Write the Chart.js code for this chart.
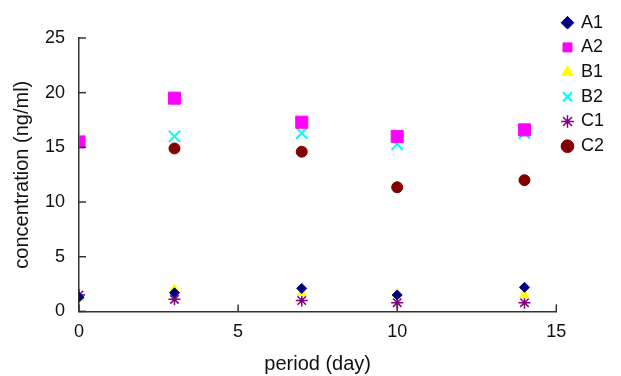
<!DOCTYPE html>
<html>
<head>
<meta charset="utf-8">
<script src="https://cdn.jsdelivr.net/npm/chart.js@4.4.1/dist/chart.umd.min.js"></script>
<style>
  html, body { margin: 0; padding: 0; background: #fff; }
</style>
</head>
<body>
<canvas id="concChart" width="621" height="376"></canvas>
<script>
const days = [0, 3, 7, 10, 14];
const a1 = [1.3, 1.7, 2.1, 1.5, 2.2];
const a2 = [15.5, 19.5, 17.3, 16.0, 16.6];
const b1 = [1.2, 2.0, 1.7, 1.6, 1.5];
const b2 = [15.5, 16.0, 16.3, 15.3, 16.3];
const c1 = [1.5, 1.1, 1.0, 0.8, 0.8];
const c2 = [15.5, 14.9, 14.6, 11.35, 12.0];
const yTicks = [0, 5, 10, 15, 20, 25];
const xTicks = [0, 5, 10, 15];

const FONT = 'Liberation Sans, Arial, sans-serif';

function pts(vals) {
  return vals.map((v, i) => ({ x: days[i], y: v }));
}

// inward tick marks, like the original plot
const innerTicks = {
  id: 'innerTicks',
  afterDraw(chart) {
    const { ctx, scales: { x, y } } = chart;
    ctx.save();
    ctx.strokeStyle = '#333';
    ctx.lineWidth = 1.5;
    xTicks.forEach(t => {
      const px = x.getPixelForValue(t);
      ctx.beginPath();
      ctx.moveTo(px, y.bottom);
      ctx.lineTo(px, y.bottom - 7);
      ctx.stroke();
    });
    yTicks.forEach(t => {
      const py = y.getPixelForValue(t);
      ctx.beginPath();
      ctx.moveTo(x.left, py);
      ctx.lineTo(x.left + 7, py);
      ctx.stroke();
    });
    ctx.restore();
  }
};

const ctx = document.getElementById('concChart').getContext('2d');
new Chart(ctx, {
  type: 'scatter',
  data: {
    datasets: [
      { label: 'A1', data: pts(a1), pointStyle: 'rectRot', pointRadius: 5, backgroundColor: '#000080', borderColor: '#000080' },
      { label: 'A2', data: pts(a2), pointStyle: 'rect', pointRadius: 8.5, backgroundColor: '#ff00ff', borderColor: '#ff00ff' },
      { label: 'B1', data: pts(b1), pointStyle: 'triangle', pointRadius: 5.5, backgroundColor: '#ffff00', borderColor: '#ffff00' },
      { label: 'B2', data: pts(b2), pointStyle: 'crossRot', pointRadius: 8, borderWidth: 2, backgroundColor: '#00ffff', borderColor: '#00ffff' },
      { label: 'C1', data: pts(c1), pointStyle: 'star', pointRadius: 6, borderWidth: 1.5, backgroundColor: '#800080', borderColor: '#800080' },
      { label: 'C2', data: pts(c2), pointStyle: 'circle', pointRadius: 5.5, backgroundColor: '#800000', borderColor: '#800000' }
    ]
  },
  options: {
    responsive: false,
    animation: false,
    layout: { padding: { top: 7, right: 7, left: 6, bottom: 0 } },
    plugins: {
      tooltip: { enabled: false },
      legend: {
        position: 'right',
        align: 'start',
        labels: {
          usePointStyle: true,
          boxWidth: 9,
          boxHeight: 9,
          padding: 6.7,
          color: '#111',
          font: { family: FONT, size: 18 }
        }
      }
    },
    scales: {
      x: {
        type: 'linear',
        min: 0,
        max: 15,
        afterBuildTicks: s => { s.ticks = xTicks.map(v => ({ value: v })); },
        grid: { display: false },
        border: { display: true, color: '#333', width: 1.5 },
        ticks: { color: '#111', padding: 2, font: { family: FONT, size: 18 } },
        title: { display: true, text: 'period (day)', color: '#111', padding: { top: 7, bottom: 0 }, font: { family: FONT, size: 20 } }
      },
      y: {
        type: 'linear',
        min: 0,
        max: 25,
        afterBuildTicks: s => { s.ticks = yTicks.map(v => ({ value: v })); },
        afterFit: s => { s.paddingTop = 38; },
        grid: { display: false },
        border: { display: true, color: '#333', width: 1.5 },
        ticks: { color: '#111', padding: 6, font: { family: FONT, size: 18 } },
        title: { display: true, text: 'concentration (ng/ml)', color: '#111', padding: { top: 4, bottom: 5 }, font: { family: FONT, size: 20 } }
      }
    }
  },
  plugins: [innerTicks]
});
</script>
</body>
</html>
